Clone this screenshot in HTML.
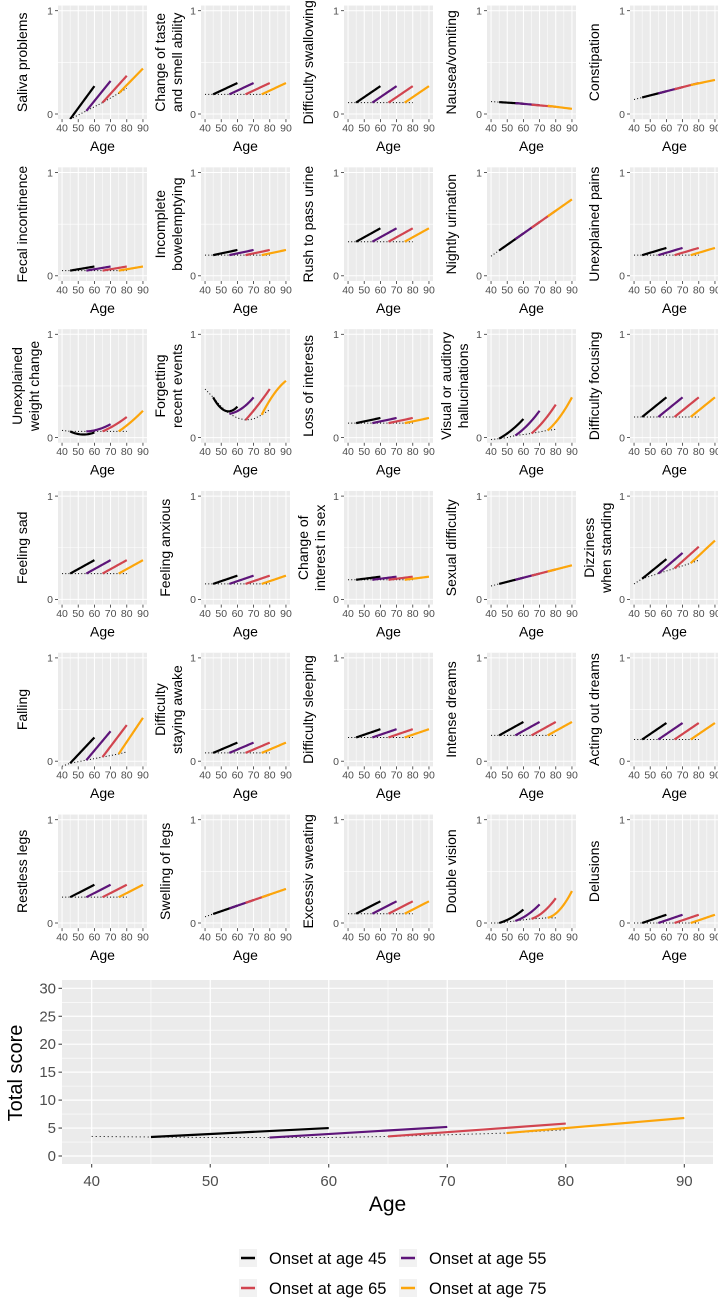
<!DOCTYPE html>
<html><head><meta charset="utf-8">
<style>
html,body{margin:0;padding:0;background:#fff;}
svg{display:block;font-family:"Liberation Sans",sans-serif;}
</style></head>
<body>
<svg id="chart" width="718" height="1299" viewBox="0 0 718 1299" xmlns="http://www.w3.org/2000/svg">
<defs id="defs"></defs>
</svg>
<script>
const panelNames = ["Saliva problems","Change of taste\nand smell ability","Difficulty swallowing","Nausea/vomiting","Constipation",
"Fecal incontinence","Incomplete\nbowelemptying","Rush to pass urine","Nightly urination","Unexplained pains",
"Unexplained\nweight change","Forgetting\nrecent events","Loss of interests","Visual or auditory\nhallucinations","Difficulty focusing",
"Feeling sad","Feeling anxious","Change of\ninterest in sex","Sexual difficulty","Dizziness\nwhen standing",
"Falling","Difficulty\nstaying awake","Difficulty sleeping","Intense dreams","Acting out dreams",
"Restless legs","Swelling of legs","Excessiv sweating","Double vision","Delusions"];
const baseAges = [40,45,50,55,60,65,70,75,80];
const onsetAges = [45,55,65,75];
const onsetLabels = ["Onset at age 45","Onset at age 55","Onset at age 65","Onset at age 75"];
const baselines = [
[-0.1,-0.05,-0.01,0.03,0.07,0.11,0.155,0.2,0.25],
[0.19,0.19,0.19,0.19,0.19,0.19,0.19,0.19,0.19],
[0.11,0.11,0.11,0.11,0.11,0.11,0.11,0.11,0.11],
[0.12,0.115,0.11,0.105,0.1,0.09,0.085,0.08,0.07],
[0.14,0.16,0.18,0.2,0.22,0.24,0.26,0.28,0.30],
[0.05,0.05,0.05,0.05,0.05,0.05,0.05,0.05,0.05],
[0.2,0.2,0.2,0.2,0.2,0.2,0.2,0.2,0.2],
[0.33,0.33,0.33,0.33,0.33,0.33,0.33,0.33,0.33],
[0.19,0.245,0.30,0.355,0.41,0.465,0.52,0.575,0.63],
[0.2,0.2,0.2,0.2,0.2,0.2,0.2,0.2,0.2],
[0.07,0.06,0.06,0.06,0.06,0.06,0.06,0.06,0.06],
[0.47,0.39,0.3,0.23,0.19,0.17,0.18,0.22,0.27],
[0.14,0.14,0.14,0.14,0.14,0.14,0.14,0.14,0.14],
[-0.02,-0.01,0.0,0.02,0.03,0.04,0.055,0.07,0.08],
[0.2,0.2,0.2,0.2,0.2,0.2,0.2,0.2,0.2],
[0.25,0.25,0.25,0.25,0.25,0.25,0.25,0.25,0.25],
[0.15,0.15,0.15,0.15,0.15,0.15,0.15,0.15,0.15],
[0.19,0.19,0.19,0.19,0.19,0.19,0.19,0.19,0.19],
[0.13,0.15,0.17,0.19,0.21,0.23,0.25,0.27,0.29],
[0.15,0.2,0.225,0.25,0.275,0.3,0.325,0.35,0.38],
[-0.05,-0.02,-0.005,0.01,0.025,0.04,0.055,0.07,0.09],
[0.08,0.08,0.08,0.08,0.08,0.08,0.08,0.08,0.08],
[0.23,0.23,0.23,0.23,0.23,0.23,0.23,0.23,0.23],
[0.25,0.25,0.25,0.25,0.25,0.25,0.25,0.25,0.25],
[0.21,0.21,0.21,0.21,0.21,0.21,0.21,0.21,0.21],
[0.25,0.25,0.25,0.25,0.25,0.25,0.25,0.25,0.25],
[0.06,0.087,0.114,0.141,0.168,0.195,0.222,0.249,0.276],
[0.09,0.09,0.09,0.09,0.09,0.09,0.09,0.09,0.09],
[0,0,0.01,0.02,0.03,0.04,0.045,0.05,0.05],
[0,0,0,0,0,0,0,0,0]];
const endValues = [
[0.27,0.32,0.37,0.44],[0.30,0.30,0.30,0.30],[0.27,0.27,0.27,0.27],[0.1,0.085,0.07,0.05],[0.22,0.26,0.30,0.33],
[0.09,0.09,0.09,0.09],[0.25,0.25,0.25,0.25],[0.46,0.46,0.46,0.46],[0.41,0.52,0.63,0.74],[0.27,0.27,0.27,0.27],
[0.05,0.13,0.2,0.26],[0.3,0.39,0.47,0.55],[0.19,0.19,0.19,0.19],[0.18,0.26,0.32,0.39],[0.39,0.39,0.39,0.39],
[0.38,0.38,0.38,0.38],[0.23,0.23,0.23,0.23],[0.22,0.22,0.22,0.22],[0.21,0.25,0.29,0.33],[0.39,0.45,0.51,0.57],
[0.23,0.29,0.35,0.42],[0.18,0.18,0.18,0.18],[0.31,0.31,0.31,0.31],[0.38,0.38,0.38,0.38],[0.37,0.37,0.37,0.37],
[0.37,0.37,0.37,0.37],[0.168,0.222,0.276,0.33],[0.21,0.21,0.21,0.21],[0.13,0.18,0.24,0.31],[0.08,0.08,0.08,0.08]];
const midValues = {10:[0.03,0.08,0.12,0.15], 11:[0.26,0.28,0.31,0.42], 13:[0.07,0.12,0.16,0.20], 28:[0.05,0.08,0.11,0.13]};
const totalBase = [3.5,3.4,3.3,3.3,3.3,3.5,3.8,4.1,4.7];
const totalEnds = [5.0,5.2,5.8,6.8];
const xTicks = [40,50,60,70,80,90];
const smallYTicks = [0,1];
const totalYTicks = [0,5,10,15,20,25,30];
const colors = ["#000000","#5d1479","#d1444f","#fca50a"];

const NS="http://www.w3.org/2000/svg";
const svg=document.getElementById('chart');
const defs=document.getElementById('defs');
function mk(tag,attrs,parent){const e=document.createElementNS(NS,tag);for(const k in attrs)e.setAttribute(k,attrs[k]);(parent||svg).appendChild(e);return e;}
function quad(a0,v0,a1,v1,a2,v2,a){return v0*(a-a1)*(a-a2)/((a0-a1)*(a0-a2))+v1*(a-a0)*(a-a2)/((a1-a0)*(a1-a2))+v2*(a-a0)*(a-a1)/((a2-a0)*(a2-a1));}

// small panels
const PW=89, COLP=143, X0=58, ROWP=161.8, Y1=10.7, YH=103.3;
for(let p=0;p<30;p++){
  const col=p%5,row=Math.floor(p/5);
  const L=X0+COLP*col, yTop1=Y1+ROWP*row, yZero=yTop1+YH;
  const xs=a=>L+(a-37.5)/55*PW;
  const ys=v=>yZero-v*YH;
  const g=mk('g',{});
  
  
  const bg=mk('rect',{x:L,y:ys(1.05),width:PW,height:YH*1.1,fill:'#ebebeb'},g);
  
  
  // grid
  [45,55,65,75,85].forEach(a=>mk('line',{x1:xs(a),x2:xs(a),y1:ys(1.05),y2:ys(-0.05),stroke:'#fff','stroke-width':0.5},g));
  mk('line',{x1:L,x2:L+PW,y1:ys(0.5),y2:ys(0.5),stroke:'#fff','stroke-width':0.6},g);
  xTicks.forEach(a=>{mk('line',{x1:xs(a),x2:xs(a),y1:ys(1.05),y2:ys(-0.05),stroke:'#fff','stroke-width':1},g);
    mk('line',{x1:xs(a),x2:xs(a),y1:ys(-0.05),y2:ys(-0.05)+3,stroke:'#333','stroke-width':0.8},g);
    const t=mk('text',{x:xs(a),y:yZero+17.5,'font-size':10.5,fill:'#4d4d4d','text-anchor':'middle'},g);t.textContent=a;
    
    });
  smallYTicks.forEach(v=>{mk('line',{x1:L,x2:L+PW,y1:ys(v),y2:ys(v),stroke:'#fff','stroke-width':1},g);
    mk('line',{x1:L-3,x2:L,y1:ys(v),y2:ys(v),stroke:'#333','stroke-width':0.8},g);
    const t=mk('text',{x:L-5,y:ys(v)+3.8,'font-size':10.5,fill:'#4d4d4d','text-anchor':'end'},g);t.textContent=v;
    
    });
  const xl=mk('text',{x:L+PW/2,y:yZero+37,'font-size':14,fill:'#000','text-anchor':'middle'},g);xl.textContent='Age';
  
  
  const lines=panelNames[p].split('\n');
  const cy=ys(0.5);
  lines.forEach((ln,i)=>{
    const cx = lines.length===1 ? L-36 : L-41+17*i;
    const t=mk('text',{x:cx+5,y:cy,'font-size':14,fill:'#000','text-anchor':'middle',transform:`rotate(-90 ${cx+5} ${cy})`},g);
    t.textContent=ln;
    
    
  });
  // clip
  const cp=mk('clipPath',{id:'cp'+p},defs);
  mk('rect',{x:L,y:ys(1.05),width:PW,height:YH*1.1},cp);
  const dg=mk('g',{'clip-path':`url(#cp${p})`},g);
  const bl=mk('polyline',{points:baseAges.map((a,i)=>xs(a)+','+ys(baselines[p][i])).join(' '),fill:'none',stroke:'#000','stroke-width':1,'stroke-dasharray':'1 2.2'},dg);
  
  
  onsetAges.forEach((oa,k)=>{
    const v0=baselines[p][baseAges.indexOf(oa)], v2=endValues[p][k];
    const v1=midValues[p]?midValues[p][k]:(v0+v2)/2;
    const pts=[];
    for(let s=0;s<=20;s++){const a=oa+15*s/20;pts.push(xs(a)+','+ys(quad(oa,v0,oa+7.5,v1,oa+15,v2,a)));}
    const pl=mk('polyline',{points:pts.join(' '),fill:'none',stroke:colors[k],'stroke-width':2.2,'stroke-linecap':'butt'},dg);
    
    
  });
}

// total score panel
(function(){
  const L=62,R=713,T=980,B=1164;
  const xs=a=>91.7+(a-40)*11.852;
  const ys=v=>1156-v*5.59;
  const g=mk('g',{});
  
  
  const bg=mk('rect',{x:L,y:T,width:R-L,height:B-T,fill:'#ebebeb'},g);
  
  
  [45,55,65,75,85].forEach(a=>mk('line',{x1:xs(a),x2:xs(a),y1:T,y2:B,stroke:'#fff','stroke-width':0.6},g));
  [2.5,7.5,12.5,17.5,22.5,27.5].forEach(v=>mk('line',{x1:L,x2:R,y1:ys(v),y2:ys(v),stroke:'#fff','stroke-width':0.6},g));
  xTicks.forEach(a=>{mk('line',{x1:xs(a),x2:xs(a),y1:T,y2:B,stroke:'#fff','stroke-width':1.2},g);
    mk('line',{x1:xs(a),x2:xs(a),y1:B,y2:B+3.5,stroke:'#333','stroke-width':1},g);
    const t=mk('text',{x:xs(a),y:1186,'font-size':15,fill:'#4d4d4d','text-anchor':'middle'},g);t.textContent=a;
    
    });
  totalYTicks.forEach(v=>{mk('line',{x1:L,x2:R,y1:ys(v),y2:ys(v),stroke:'#fff','stroke-width':1.2},g);
    mk('line',{x1:L-3.5,x2:L,y1:ys(v),y2:ys(v),stroke:'#333','stroke-width':1},g);
    const t=mk('text',{x:L-6,y:ys(v)+5,'font-size':15,fill:'#4d4d4d','text-anchor':'end'},g);t.textContent=v;
    
    });
  const xl=mk('text',{x:(L+R)/2,y:1211,'font-size':21,fill:'#000','text-anchor':'middle'},g);xl.textContent='Age';
  
  
  const yl=mk('text',{x:22,y:1073,'font-size':20,fill:'#000','text-anchor':'middle',transform:'rotate(-90 22 1073)'},g);yl.textContent='Total score';
  
  
  const bl=mk('polyline',{points:baseAges.map((a,i)=>xs(a)+','+ys(totalBase[i])).join(' '),fill:'none',stroke:'#000','stroke-width':1,'stroke-dasharray':'1 3'},g);
  
  
  onsetAges.forEach((oa,k)=>{
    const v0=totalBase[baseAges.indexOf(oa)];
    const pl=mk('line',{x1:xs(oa),y1:ys(v0),x2:xs(oa+15),y2:ys(totalEnds[k]),stroke:colors[k],'stroke-width':2.2},g);
    
    
  });
})();

// legend
(function(){
  const g=mk('g',{});
  
  
  const pos=[[240,1258],[400,1258],[240,1288],[400,1288]];
  onsetLabels.forEach((lab,k)=>{
    const [x,y]=pos[k];
    const e=mk('g',{},g);
    
    
    mk('rect',{x:x-1,y:y-9,width:18,height:18,fill:'#f2f2f2'},e);
    mk('line',{x1:x+1,x2:x+15,y1:y,y2:y,stroke:colors[k],'stroke-width':2.5},e);
    const t=mk('text',{x:x+29,y:y+6,'font-size':16.5,fill:'#000'},e);t.textContent=lab;
    
    
  });
})();
</script>
</body></html>
